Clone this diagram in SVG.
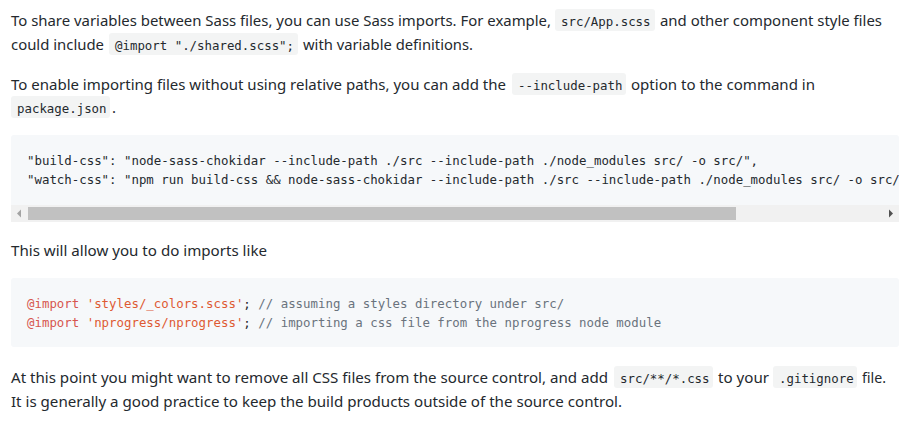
<svg xmlns="http://www.w3.org/2000/svg" width="916" height="429" viewBox="0 0 916 429">
<style>
.t{font-family:"Noto Sans","Open Sans","Liberation Sans",sans-serif;font-size:15px;fill:#24292e}
.m{font-family:"DejaVu Sans Mono","Liberation Mono",monospace;font-size:12.4px;fill:#24292e}
.ic{fill:#f3f4f4}
.pre{fill:#f6f8fa}
.k{fill:#d6564f}
.s{fill:#de5a33}
.c{fill:#6a737d}
</style>
<defs>
<clipPath id="clip1"><rect x="11" y="135" width="888" height="70"/></clipPath>
</defs>
<rect width="916" height="429" fill="#ffffff"/>

<g id="para1">
<rect class="ic" x="555" y="9" width="100" height="22" rx="3"/>
<rect class="ic" x="109" y="33" width="189" height="22" rx="3"/>
<text class="t" x="11" y="26" textLength="540" lengthAdjust="spacingAndGlyphs">To share variables between Sass files, you can use Sass imports. For example,</text>
<text class="m" x="561" y="26">src/App.scss</text>
<text class="t" x="660" y="26" textLength="222" lengthAdjust="spacingAndGlyphs">and other component style files</text>
<text class="t" x="11" y="50" textLength="93" lengthAdjust="spacingAndGlyphs">could include</text>
<text class="m" x="115" y="50">@import "./shared.scss";</text>
<text class="t" x="303" y="50" textLength="170" lengthAdjust="spacingAndGlyphs">with variable definitions.</text>
</g>

<g id="para2">
<rect class="ic" x="512" y="73" width="114" height="22" rx="3"/>
<rect class="ic" x="11" y="96" width="99" height="22" rx="3"/>
<text class="t" x="11" y="90" textLength="495" lengthAdjust="spacingAndGlyphs">To enable importing files without using relative paths, you can add the</text>
<text class="m" x="518" y="90">--include-path</text>
<text class="t" x="631" y="90" textLength="184" lengthAdjust="spacingAndGlyphs">option to the command in</text>
<text class="m" x="17" y="113">package.json</text>
<text class="t" x="112" y="113">.</text>
</g>

<g id="code1">
<rect class="pre" x="11" y="135" width="888" height="87" rx="3"/>
<g clip-path="url(#clip1)">
<text class="m" x="27" y="164.5">"build-css": "node-sass-chokidar --include-path ./src --include-path ./node_modules src/ -o src/",</text>
<text class="m" x="27" y="184">"watch-css": "npm run build-css &amp;&amp; node-sass-chokidar --include-path ./src --include-path ./node_modules src/ -o src/</text>
</g>
<rect x="11" y="205" width="888" height="17" fill="#f1f1f1"/>
<rect x="28" y="207" width="708" height="13" fill="#c1c1c1"/>
<polygon points="17,213.5 21,209.5 21,217.5" fill="#a3a3a3"/>
<polygon points="889,209.5 893,213.5 889,217.5" fill="#505050"/>
</g>

<g id="para3">
<text class="t" x="11" y="256" textLength="256" lengthAdjust="spacingAndGlyphs">This will allow you to do imports like</text>
</g>

<g id="code2">
<rect class="pre" x="11" y="278" width="888" height="69" rx="3"/>
<text class="m" y="308"><tspan class="k" x="27">@import</tspan><tspan class="s" x="86.7">'styles/_colors.scss'</tspan><tspan x="243.3">;</tspan><tspan class="c" x="258.3">// assuming a styles directory under src/</tspan></text>
<text class="m" y="327"><tspan class="k" x="27">@import</tspan><tspan class="s" x="86.7">'nprogress/nprogress'</tspan><tspan x="243.3">;</tspan><tspan class="c" x="258.3">// importing a css file from the nprogress node module</tspan></text>
</g>

<g id="para4">
<rect class="ic" x="614" y="366" width="99" height="22" rx="3"/>
<rect class="ic" x="773" y="366" width="84" height="22" rx="3"/>
<text class="t" x="11" y="382.5" textLength="597" lengthAdjust="spacingAndGlyphs">At this point you might want to remove all CSS files from the source control, and add</text>
<text class="m" x="620" y="382.5">src/**/*.css</text>
<text class="t" x="718" y="382.5" textLength="51" lengthAdjust="spacingAndGlyphs">to your</text>
<text class="m" x="779" y="382.5">.gitignore</text>
<text class="t" x="862" y="382.5" textLength="24" lengthAdjust="spacingAndGlyphs">file.</text>
<text class="t" x="11" y="406.5" textLength="611" lengthAdjust="spacingAndGlyphs">It is generally a good practice to keep the build products outside of the source control.</text>
</g>
</svg>
